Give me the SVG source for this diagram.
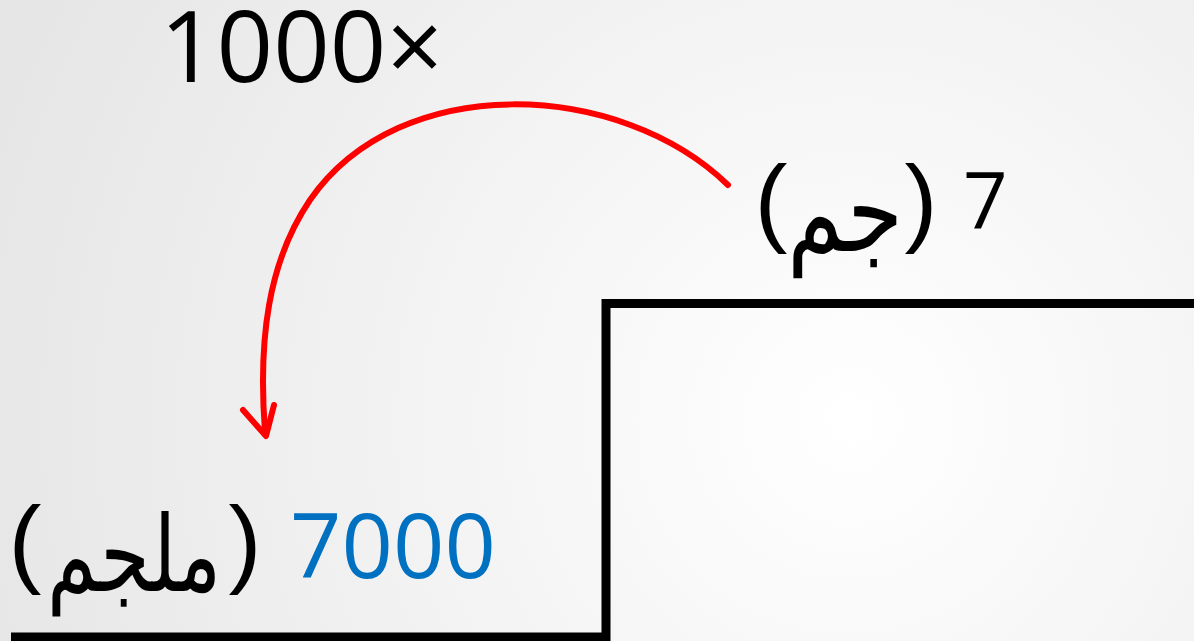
<svg xmlns="http://www.w3.org/2000/svg" width="1194" height="641" viewBox="0 0 1194 641">
  <defs>
    <radialGradient id="bg" cx="850" cy="420" r="900" gradientUnits="userSpaceOnUse">
      <stop offset="0" stop-color="#ffffff"/>
      <stop offset="1" stop-color="#e6e6e6"/>
    </radialGradient>
    <style>
      .num { font-family: "Open Sans", "Liberation Sans", sans-serif; fill: #000; }
      .par { font-family: "Liberation Sans", "DejaVu Sans", sans-serif; fill: #000; font-size: 99px; text-anchor: middle; }
      .ar { font-family: "DejaVu Sans", "Noto Sans", sans-serif; fill: #000; text-anchor: middle; }
      .step { fill: none; stroke: #000; stroke-width: 9; }
      .arc { fill: none; stroke: #ff0000; stroke-width: 6; stroke-linecap: round; stroke-linejoin: round; }
    </style>
  </defs>
  <rect x="0" y="0" width="1194" height="641" fill="url(#bg)"/>

  <g id="connectors">
    <path class="arc" d="M728,185 C620,80 400,70 310,200 C268,262 258,340 265,432"/>
    <path class="arc" d="M243,410 L266,436 L274,405"/>
  </g>

  <g id="step">
    <path class="step" d="M11,637 L606,637 L606,303.5 L1194,303.5"/>
  </g>

  <g id="factor">
    <text class="num" x="160" y="82" font-size="99">1000×</text>
  </g>

  <g id="grams">
    <text class="num" x="963" y="228" font-size="78">7</text>
    <text class="par" x="771" y="234">(</text>
    <text class="ar" transform="translate(845,251) scale(1,1.25)" x="0" y="0" font-size="90">جم</text>
    <text class="par" x="921" y="234">)</text>
  </g>

  <g id="milligrams">
    <text class="num" x="290" y="578" font-size="90" style="fill:#0070c0">7000</text>
    <text class="par" x="25" y="575">(</text>
    <text class="ar" transform="translate(134,591) scale(1,1.31)" x="0" y="0" font-size="80">ملجم</text>
    <text class="par" x="245" y="575">)</text>
  </g>
</svg>
